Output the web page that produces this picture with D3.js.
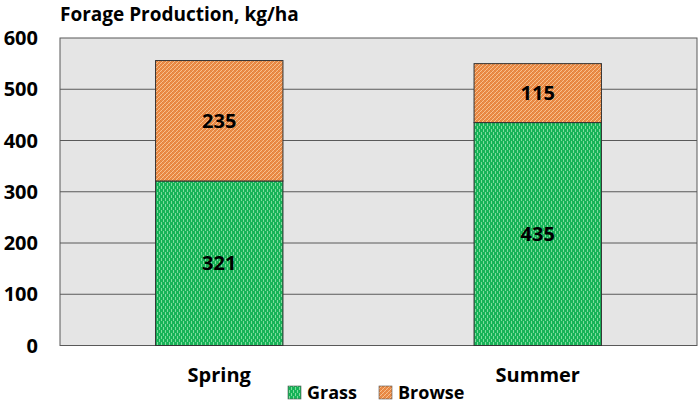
<!DOCTYPE html>
<html>
<head>
<meta charset="utf-8">
<script src="https://cdn.jsdelivr.net/npm/d3@7"></script>
<style>
  body { margin: 0; background: #fff; }
  text { font-family: "Open Sans", Lato, sans-serif; font-weight: bold; fill: #000; }
</style>
</head>
<body>
<svg id="chart" width="700" height="406"></svg>
<script>
// data
var seasons = ['Spring', 'Summer'];
var grass = [321, 435];
var browse = [235, 115];
var yTicks = [0, 100, 200, 300, 400, 500, 600];
var legendNames = ['Grass', 'Browse'];

var svg = d3.select('#chart');
var plotLeft = 60, plotRight = 697, plotTop = 38, plotBottom = 345.5;

var x = d3.scaleBand().domain(seasons).range([plotLeft, plotRight]).paddingInner(0.6).paddingOuter(0.3);
var y = d3.scaleLinear().domain([0, 600]).range([plotBottom, plotTop]);

/*
** fill patterns
 */
var defs = svg.append('defs');
var pg = defs.append('pattern').attr('id', 'pGrass').attr('patternUnits', 'userSpaceOnUse')
    .attr('width', 4).attr('height', 6);
pg.append('rect').attr('width', 4).attr('height', 6).attr('fill', '#17b358');
pg.append('rect').attr('x', 1).attr('y', 0).attr('width', 1).attr('height', 3).attr('fill', '#7edc9c');
pg.append('rect').attr('x', 3).attr('y', 3).attr('width', 1).attr('height', 3).attr('fill', '#7edc9c');

var pb = defs.append('pattern').attr('id', 'pBrowse').attr('patternUnits', 'userSpaceOnUse')
    .attr('width', 4).attr('height', 4);
pb.append('rect').attr('width', 4).attr('height', 4).attr('fill', '#ec8c48');
pb.append('path').attr('d', 'M0,4 L4,0').attr('stroke', '#f8c08e').attr('stroke-width', 1);
pb.append('path').attr('d', 'M0,0 L4,4').attr('stroke', '#d97a36').attr('stroke-width', 0.6);

// plot area
svg.append('rect').attr('x', plotLeft).attr('y', plotTop)
    .attr('width', plotRight - plotLeft).attr('height', plotBottom - plotTop)
    .attr('fill', '#e5e5e5').attr('stroke', '#595959').attr('stroke-width', 1);

// grid lines
svg.append('g').selectAll('line').data(yTicks.filter(function (d) { return d > 0 && d < 600; }))
    .enter().append('line')
    .attr('x1', plotLeft).attr('x2', plotRight)
    .attr('y1', function (d) { return y(d); }).attr('y2', function (d) { return y(d); })
    .attr('stroke', '#595959').attr('stroke-width', 1);

// y tick labels
svg.append('g').selectAll('text').data(yTicks).enter().append('text')
    .attr('x', 38).attr('y', function (d) { return y(d) + 7; })
    .attr('text-anchor', 'end').attr('font-size', 20)
    .text(function (d) { return d; });

// bars
var rows = seasons.map(function (s, i) { return { season: s, grass: grass[i], browse: browse[i] }; });
var stacked = d3.stack().keys(['grass', 'browse'])(rows);
var fills = { grass: 'url(#pGrass)', browse: 'url(#pBrowse)' };

stacked.forEach(function (layer) {
    var g = svg.append('g');
    g.selectAll('rect').data(layer).enter().append('rect')
        .attr('x', function (d) { return x(d.data.season); })
        .attr('width', x.bandwidth())
        .attr('y', function (d) { return y(d[1]); })
        .attr('height', function (d) { return y(d[0]) - y(d[1]); })
        .attr('fill', fills[layer.key])
        .attr('stroke', '#333').attr('stroke-width', 1);
    g.selectAll('text').data(layer).enter().append('text')
        .attr('x', function (d) { return x(d.data.season) + x.bandwidth() / 2; })
        .attr('y', function (d) { return (y(d[0]) + y(d[1])) / 2 + 7; })
        .attr('text-anchor', 'middle').attr('font-size', 20)
        .text(function (d) { return d[1] - d[0]; });
});

// x labels
svg.append('g').selectAll('text').data(seasons).enter().append('text')
    .attr('x', function (d) { return x(d) + x.bandwidth() / 2; })
    .attr('y', 382).attr('text-anchor', 'middle').attr('font-size', 20)
    .text(function (d) { return d; });

// title
svg.append('text').attr('x', 60).attr('y', 21).attr('font-size', 19).text('Forage Production, kg/ha');

// legend
var legendX = [288, 379];
var legendFill = ['url(#pGrass)', 'url(#pBrowse)'];
legendNames.forEach(function (n, i) {
    svg.append('rect').attr('x', legendX[i]).attr('y', 386).attr('width', 13).attr('height', 13)
        .attr('fill', legendFill[i]).attr('stroke', '#555').attr('stroke-width', 0.6);
    svg.append('text').attr('x', legendX[i] + 19).attr('y', 399).attr('font-size', 18).text(n);
});
</script>
</body>
</html>
